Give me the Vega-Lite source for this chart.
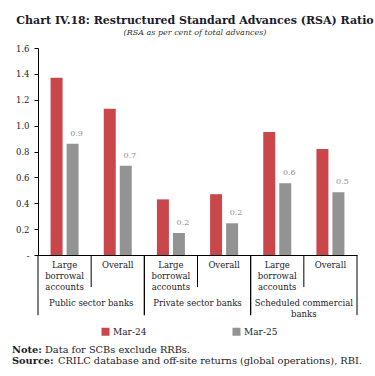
{
  "$schema": "https://vega.github.io/schema/vega-lite/v6.json",
  "padding": {"left": 12, "top": 15, "right": 4, "bottom": 2},
  "background": "white",
  "title": {
    "text": "Chart IV.18: Restructured Standard Advances (RSA) Ratio",
    "subtitle": "(RSA as per cent of total advances)",
    "anchor": "middle",
    "font": "DejaVu Serif",
    "fontSize": 11,
    "fontWeight": "bold",
    "color": "#1a1a2a",
    "subtitleFont": "DejaVu Serif",
    "subtitleFontSize": 8,
    "subtitleFontStyle": "italic",
    "subtitleColor": "#333",
    "subtitlePadding": 3,
    "offset": 7
  },
  "datasets": {
    "ratio": [
      {"group": "Public sector banks", "cat": "Large borrowal accounts|Public sector banks", "series": "Mar-24", "value": 1.37},
      {"group": "Public sector banks", "cat": "Large borrowal accounts|Public sector banks", "series": "Mar-25", "value": 0.86},
      {"group": "Public sector banks", "cat": "Overall|Public sector banks", "series": "Mar-24", "value": 1.13},
      {"group": "Public sector banks", "cat": "Overall|Public sector banks", "series": "Mar-25", "value": 0.69},
      {"group": "Private sector banks", "cat": "Large borrowal accounts|Private sector banks", "series": "Mar-24", "value": 0.43},
      {"group": "Private sector banks", "cat": "Large borrowal accounts|Private sector banks", "series": "Mar-25", "value": 0.17},
      {"group": "Private sector banks", "cat": "Overall|Private sector banks", "series": "Mar-24", "value": 0.47},
      {"group": "Private sector banks", "cat": "Overall|Private sector banks", "series": "Mar-25", "value": 0.245},
      {"group": "Scheduled commercial banks", "cat": "Large borrowal accounts|Scheduled commercial banks", "series": "Mar-24", "value": 0.95},
      {"group": "Scheduled commercial banks", "cat": "Large borrowal accounts|Scheduled commercial banks", "series": "Mar-25", "value": 0.555},
      {"group": "Scheduled commercial banks", "cat": "Overall|Scheduled commercial banks", "series": "Mar-24", "value": 0.82},
      {"group": "Scheduled commercial banks", "cat": "Overall|Scheduled commercial banks", "series": "Mar-25", "value": 0.485}
    ],
    "groups": [
      {"label": "Public sector banks", "first": "Large borrowal accounts|Public sector banks", "last": "Overall|Public sector banks"},
      {"label": "Private sector banks", "first": "Large borrowal accounts|Private sector banks", "last": "Overall|Private sector banks"},
      {"label": "Scheduled commercial\nbanks", "first": "Large borrowal accounts|Scheduled commercial banks", "last": "Overall|Scheduled commercial banks"}
    ],
    "notes": [
      {"line": 1, "head": "Note:", "body": "Data for SCBs exclude RRBs."},
      {"line": 2, "head": "Source:", "body": "CRILC database and off-site returns (global operations), RBI."}
    ]
  },
  "config": {
    "view": {"stroke": null},
    "font": "DejaVu Serif",
    "axis": {"labelFont": "DejaVu Serif", "labelColor": "#1a1a2a", "domainColor": "#000", "tickColor": "#000", "grid": false}
  },
  "vconcat": [
    {
      "width": 319,
      "height": 207,
      "layer": [
        {
          "data": {"name": "ratio"},
          "encoding": {
            "x": {
              "field": "cat", "type": "nominal",
              "scale": {
                "domain": [
                  "Large borrowal accounts|Public sector banks", "Overall|Public sector banks",
                  "Large borrowal accounts|Private sector banks", "Overall|Private sector banks",
                  "Large borrowal accounts|Scheduled commercial banks", "Overall|Scheduled commercial banks"
                ],
                "paddingInner": 0, "paddingOuter": 0
              },
              "axis": {
                "title": null, "labelAngle": 0, "ticks": false, "labelPadding": 5,
                "labelFontSize": 8.5, "labelLineHeight": 11, "labelBaseline": "top",
                "labelExpr": "indexof(datum.value, 'Large') == 0 ? ['Large', 'borrowal', 'accounts'] : 'Overall'"
              }
            },
            "y": {
              "field": "value", "type": "quantitative",
              "scale": {"domain": [0, 1.6], "nice": false},
              "axis": {
                "title": null, "values": [0, 0.2, 0.4, 0.6, 0.8, 1.0, 1.2, 1.4, 1.6],
                "labelExpr": "datum.value == 0 ? '-' : format(datum.value, '.1f')",
                "labelOverlap": false,
                "tickSize": 4, "labelPadding": 5, "labelFontSize": 8.5
              }
            },
            "color": {
              "field": "series", "type": "nominal",
              "scale": {"domain": ["Mar-24", "Mar-25"], "range": ["#c9474b", "#939393"]},
              "legend": {
                "title": null, "orient": "none", "direction": "horizontal",
                "legendX": 63, "legendY": 279, "padding": 0,
                "symbolType": "square", "symbolSize": 64, "symbolStrokeWidth": 0, "symbolOpacity": 1,
                "labelFont": "DejaVu Serif", "labelFontSize": 9, "labelColor": "#1a1a2a",
                "columnPadding": 85, "labelOffset": 3
              }
            }
          },
          "layer": [
            {
              "transform": [{"filter": "datum.series == 'Mar-24'"}],
              "mark": {"type": "bar", "width": 12, "xOffset": -8}
            },
            {
              "transform": [{"filter": "datum.series == 'Mar-25'"}],
              "mark": {"type": "bar", "width": 12, "xOffset": 8}
            },
            {
              "transform": [{"filter": "datum.series == 'Mar-25'"}],
              "mark": {"type": "text", "baseline": "bottom", "dy": -6, "xOffset": 12, "fontSize": 8, "font": "DejaVu Serif"},
              "encoding": {
                "text": {"field": "value", "type": "quantitative", "format": ".1f"},
                "color": {"value": "#8c8c8c"}
              }
            }
          ]
        },
        {
          "data": {"name": "groups"},
          "layer": [
            {
              "mark": {"type": "rule", "color": "#000", "strokeWidth": 1},
              "encoding": {
                "x": {"field": "first", "type": "nominal", "bandPosition": 0},
                "y": {"datum": 0, "axis": {"title": null, "values": [0, 0.2, 0.4, 0.6, 0.8, 1.0, 1.2, 1.4, 1.6], "labelExpr": "datum.value == 0 ? '-' : format(datum.value, '.1f')", "labelOverlap": false, "tickSize": 4, "labelPadding": 5, "labelFontSize": 8.5}},
                "y2": {"datum": -0.465}
              }
            },
            {
              "mark": {"type": "rule", "color": "#000", "strokeWidth": 1},
              "encoding": {
                "x": {"field": "last", "type": "nominal", "bandPosition": 1},
                "y": {"datum": 0, "axis": {"title": null, "values": [0, 0.2, 0.4, 0.6, 0.8, 1.0, 1.2, 1.4, 1.6], "labelExpr": "datum.value == 0 ? '-' : format(datum.value, '.1f')", "labelOverlap": false, "tickSize": 4, "labelPadding": 5, "labelFontSize": 8.5}},
                "y2": {"datum": -0.465}
              }
            },
            {
              "mark": {"type": "rule", "color": "#000", "strokeWidth": 1},
              "encoding": {
                "x": {"field": "last", "type": "nominal", "bandPosition": 0},
                "y": {"datum": 0, "axis": {"title": null, "values": [0, 0.2, 0.4, 0.6, 0.8, 1.0, 1.2, 1.4, 1.6], "labelExpr": "datum.value == 0 ? '-' : format(datum.value, '.1f')", "labelOverlap": false, "tickSize": 4, "labelPadding": 5, "labelFontSize": 8.5}},
                "y2": {"datum": -0.248}
              }
            },
            {
              "mark": {"type": "text", "baseline": "top", "align": "center", "fontSize": 8.5, "lineHeight": 11, "lineBreak": "\n", "font": "DejaVu Serif", "color": "#1a1a2a"},
              "encoding": {
                "x": {"field": "last", "type": "nominal", "bandPosition": 0},
                "y": {"datum": -0.34, "axis": {"title": null, "values": [0, 0.2, 0.4, 0.6, 0.8, 1.0, 1.2, 1.4, 1.6], "labelExpr": "datum.value == 0 ? '-' : format(datum.value, '.1f')", "labelOverlap": false, "tickSize": 4, "labelPadding": 5, "labelFontSize": 8.5}},
                "text": {"field": "label"}
              }
            }
          ]
        }
      ]
    },
    {
      "width": 340,
      "height": 22,
      "data": {"name": "notes"},
      "encoding": {
        "y": {"field": "line", "type": "ordinal", "axis": null, "scale": {"paddingOuter": 0.5}}
      },
      "layer": [
        {
          "mark": {"type": "text", "align": "left", "fontWeight": "bold", "fontSize": 9.8, "font": "DejaVu Serif", "color": "#1a1a2a", "dx": -26},
          "encoding": {"x": {"value": 0}, "text": {"field": "head"}}
        },
        {
          "transform": [{"filter": "datum.line == 1"}],
          "mark": {"type": "text", "align": "left", "fontSize": 9.8, "font": "DejaVu Serif", "color": "#1a1a2a", "dx": 7},
          "encoding": {"x": {"value": 0}, "text": {"field": "body"}}
        },
        {
          "transform": [{"filter": "datum.line == 2"}],
          "mark": {"type": "text", "align": "left", "fontSize": 9.8, "font": "DejaVu Serif", "color": "#1a1a2a", "dx": 20},
          "encoding": {"x": {"value": 0}, "text": {"field": "body"}}
        }
      ]
    }
  ],
  "spacing": 25
}
